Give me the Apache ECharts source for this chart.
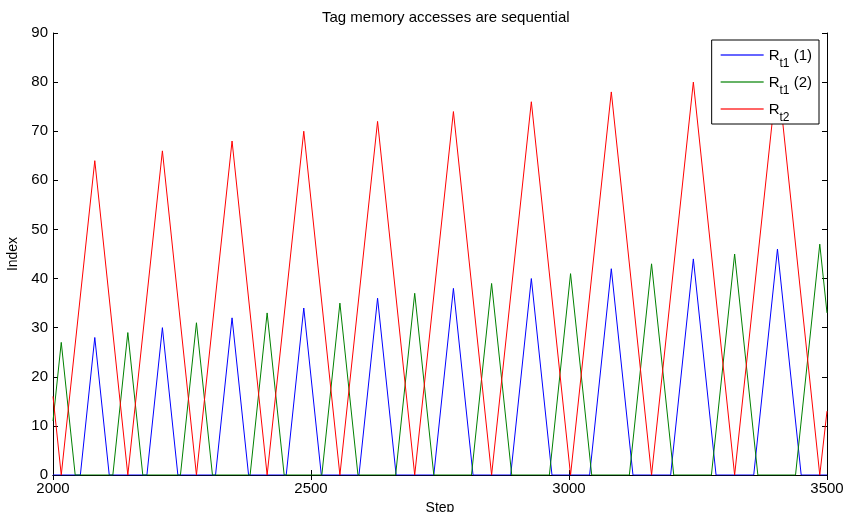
<!DOCTYPE html>
<html>
<head>
<meta charset="utf-8">
<script src="https://cdn.jsdelivr.net/npm/echarts@6/dist/echarts.min.js"></script>
<style>
  html, body { margin: 0; padding: 0; background: #fff; }
  #chart { width: 845px; height: 512px; }
</style>
</head>
<body>
<div id="chart"></div>
<script>
// vertices of each trace (step, index)
const rt1aSteps = [2000, 2053, 2081, 2109, 2182, 2212, 2242, 2315, 2347, 2379, 2452, 2486, 2520,
  2593, 2629, 2665, 2738, 2776, 2814, 2887, 2927, 2967, 3040, 3082, 3124, 3197, 3241, 3285,
  3358, 3404, 3450, 3500];
const rt1aValues = [0, 0, 28, 0, 0, 30, 0, 0, 32, 0, 0, 34, 0,
  0, 36, 0, 0, 38, 0, 0, 40, 0, 0, 42, 0, 0, 44, 0,
  0, 46, 0, 0];

const rt1bSteps = [2000, 2016, 2043, 2116, 2145, 2174, 2247, 2278, 2309, 2382, 2415, 2448,
  2521, 2556, 2591, 2664, 2701, 2738, 2811, 2850, 2889, 2962, 3003, 3044, 3117, 3160, 3203,
  3276, 3321, 3366, 3439, 3486, 3500];
const rt1bValues = [11, 27, 0, 0, 29, 0, 0, 31, 0, 0, 33, 0,
  0, 35, 0, 0, 37, 0, 0, 39, 0, 0, 41, 0, 0, 43, 0,
  0, 45, 0, 0, 47, 33];

const rt2Steps = [2000, 2016, 2017, 2081, 2145, 2146, 2212, 2278, 2279, 2347, 2415, 2416,
  2486, 2556, 2557, 2629, 2701, 2702, 2776, 2850, 2851, 2927, 3003, 3004, 3082, 3160, 3161,
  3241, 3321, 3322, 3404, 3486, 3487, 3500];
const rt2Values = [16, 0, 0, 64, 0, 0, 66, 0, 0, 68, 0, 0,
  70, 0, 0, 72, 0, 0, 74, 0, 0, 76, 0, 0, 78, 0, 0,
  80, 0, 0, 82, 0, 0, 13];

const seriesNames = ['R_t1 (1)', 'R_t1 (2)', 'R_t2'];
const seriesColors = ['#0000ff', '#008000', '#ff0000'];

function pairs(xs, ys) {
  return xs.map(function (x, i) { return [x, ys[i]]; });
}

const font = 'Liberation Sans, Arial, sans-serif';
const tickLabel = { fontFamily: font, fontSize: 15, color: '#000' };

const boxAxis = {
  axisLine: { show: true, lineStyle: { color: '#000', width: 1 } },
  axisTick: { show: true, inside: true, length: 5, lineStyle: { color: '#000' } },
  splitLine: { show: false }
};

const chart = echarts.init(document.getElementById('chart'));

const option = {
  animation: false,
  backgroundColor: '#fff',
  title: {
    text: 'Tag memory accesses are sequential',
    left: 317,
    top: 5,
    textStyle: { fontFamily: font, fontSize: 15, fontWeight: 'normal', color: '#000' }
  },
  legend: {
    orient: 'vertical',
    right: 26,
    top: 40,
    padding: [8, 7, 0, 9],
    itemGap: 5,
    itemWidth: 43,
    itemHeight: 2,
    icon: 'rect',
    itemStyle: { opacity: 0.6 },
    backgroundColor: '#fff',
    borderColor: '#000',
    borderWidth: 1,
    borderRadius: 0,
    z: 10,
    data: seriesNames,
    formatter: function (name) {
      // R_t1 (1) -> R with subscript t1
      const m = name.match(/^R_(\S+)(.*)$/);
      return '{m|R}{sub|' + m[1] + '}' + (m[2] ? '{m|' + m[2] + '}' : '');
    },
    textStyle: {
      fontFamily: font, fontSize: 15, color: '#000',
      rich: {
        m: { fontFamily: font, fontSize: 15, color: '#000', lineHeight: 14, verticalAlign: 'top' },
        sub: { fontFamily: font, fontSize: 12, color: '#000', lineHeight: 8, verticalAlign: 'top', padding: [10, 0, 0, 0] }
      }
    }
  },
  grid: { left: 53, right: 18, top: 33, bottom: 37, containLabel: false, outerBoundsMode: 'none' },
  xAxis: [
    Object.assign({
      type: 'value', min: 2000, max: 3500, interval: 500,
      name: 'Step', nameLocation: 'middle', nameGap: 25,
      nameTextStyle: { fontFamily: font, fontSize: 14, color: '#000' },
      axisLabel: Object.assign({ margin: 6, formatter: function (v) { return String(v); } }, tickLabel)
    }, boxAxis),
    Object.assign({
      type: 'value', min: 2000, max: 3500, interval: 500, position: 'top',
      axisLabel: { show: false }
    }, boxAxis)
  ],
  yAxis: [
    Object.assign({
      type: 'value', min: 0, max: 90, interval: 10,
      name: 'Index', nameLocation: 'middle', nameGap: 28,
      nameTextStyle: { fontFamily: font, fontSize: 14, color: '#000' },
      axisLabel: Object.assign({ margin: 5 }, tickLabel)
    }, boxAxis),
    Object.assign({
      type: 'value', min: 0, max: 90, interval: 10, position: 'right',
      axisLabel: { show: false }
    }, boxAxis)
  ],
  series: [
    { name: seriesNames[0], data: pairs(rt1aSteps, rt1aValues) },
    { name: seriesNames[1], data: pairs(rt1bSteps, rt1bValues) },
    { name: seriesNames[2], data: pairs(rt2Steps, rt2Values) }
  ].map(function (s, i) {
    return Object.assign(s, {
      type: 'line',
      symbol: 'none',
      color: seriesColors[i],
      lineStyle: { width: 1, color: seriesColors[i] },
      clip: true
    });
  })
};

chart.setOption(option);
</script>
</body>
</html>
